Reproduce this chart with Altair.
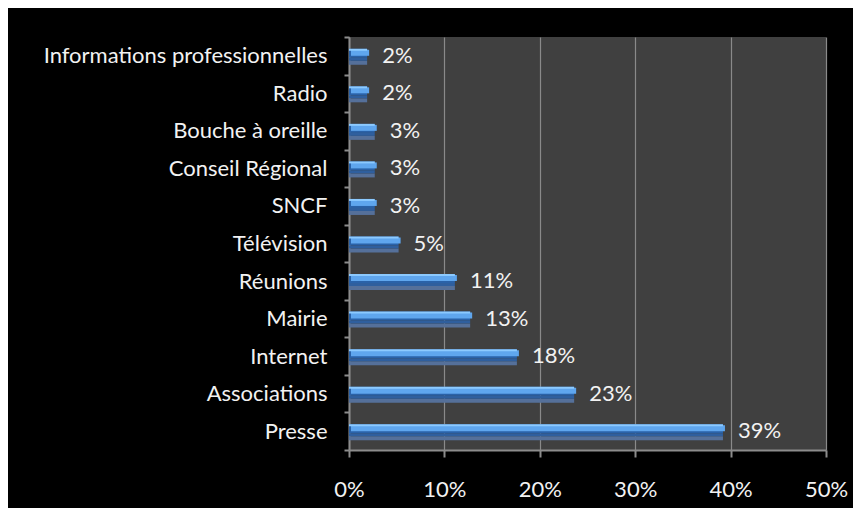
import altair as alt
import pandas as pd

categories = ["Informations professionnelles", "Radio", "Bouche à oreille",
              "Conseil Régional", "SNCF", "Télévision", "Réunions", "Mairie",
              "Internet", "Associations", "Presse"]
values = [0.019, 0.019, 0.027, 0.027, 0.027, 0.052, 0.111, 0.127, 0.176, 0.236, 0.392]
labels = ["2%", "2%", "3%", "3%", "3%", "5%", "11%", "13%", "18%", "23%", "39%"]

df = pd.DataFrame({"cat": categories, "val": values, "lab": labels})

FONT = "Lato"
FS = 22
x = alt.X("val:Q", scale=alt.Scale(domain=[0, 0.5], nice=False),
          axis=alt.Axis(format="%", values=[0, 0.1, 0.2, 0.3, 0.4, 0.5],
                        title=None, grid=True, gridColor="#8a8a8a", gridWidth=1.2,
                        domainColor="#8c8c8c", domainWidth=2, tickColor="#8c8c8c",
                        tickWidth=2, tickSize=7, labelPadding=22, labelFlush=False,
                        labelColor="#f2f2f2", labelFont=FONT, labelFontSize=FS))
y = alt.Y("cat:N", sort=categories, scale=alt.Scale(paddingInner=0, paddingOuter=0),
          axis=alt.Axis(title=None, tickBand="extent", domainColor="#8c8c8c",
                        domainWidth=2, tickColor="#8c8c8c", tickWidth=2, tickSize=5,
                        labelPadding=17, labelColor="#f2f2f2", labelFont=FONT,
                        labelFontSize=FS, labelLimit=400))

base = alt.Chart(df)
shadow = base.mark_bar(size=4, color="#55709a", yOffset=7).encode(x=x, y=y)
dark = base.mark_bar(size=3, color="#2f5f9e", yOffset=3.5).encode(x=x, y=y)
main = base.mark_bar(size=9, color="#2a62a8", yOffset=-2.5).encode(x=x, y=y)
light = base.mark_bar(size=6, color="#5fa6ee", yOffset=-3, xOffset=2, x2Offset=-3).encode(x=x, y=y)
top = base.mark_bar(size=2, color="#8ccaff", yOffset=-6, x2Offset=-3).encode(x=x, y=y)
text = base.mark_text(align="left", dx=15, baseline="middle", color="#f2f2f2",
                      font=FONT, fontSize=FS).encode(x=x, y=y, text="lab:N")

chart = alt.layer(shadow, dark, main, light, top, text).properties(
    width=477, height=413,
    background="#000000",
    padding={"left": 341, "top": 29, "right": 27, "bottom": 58},
    autosize=alt.AutoSizeParams(type="none"),
).configure_view(fill="#404040", stroke=None)

chart.save("out.html", embed_options={"renderer": "svg", "actions": False})
